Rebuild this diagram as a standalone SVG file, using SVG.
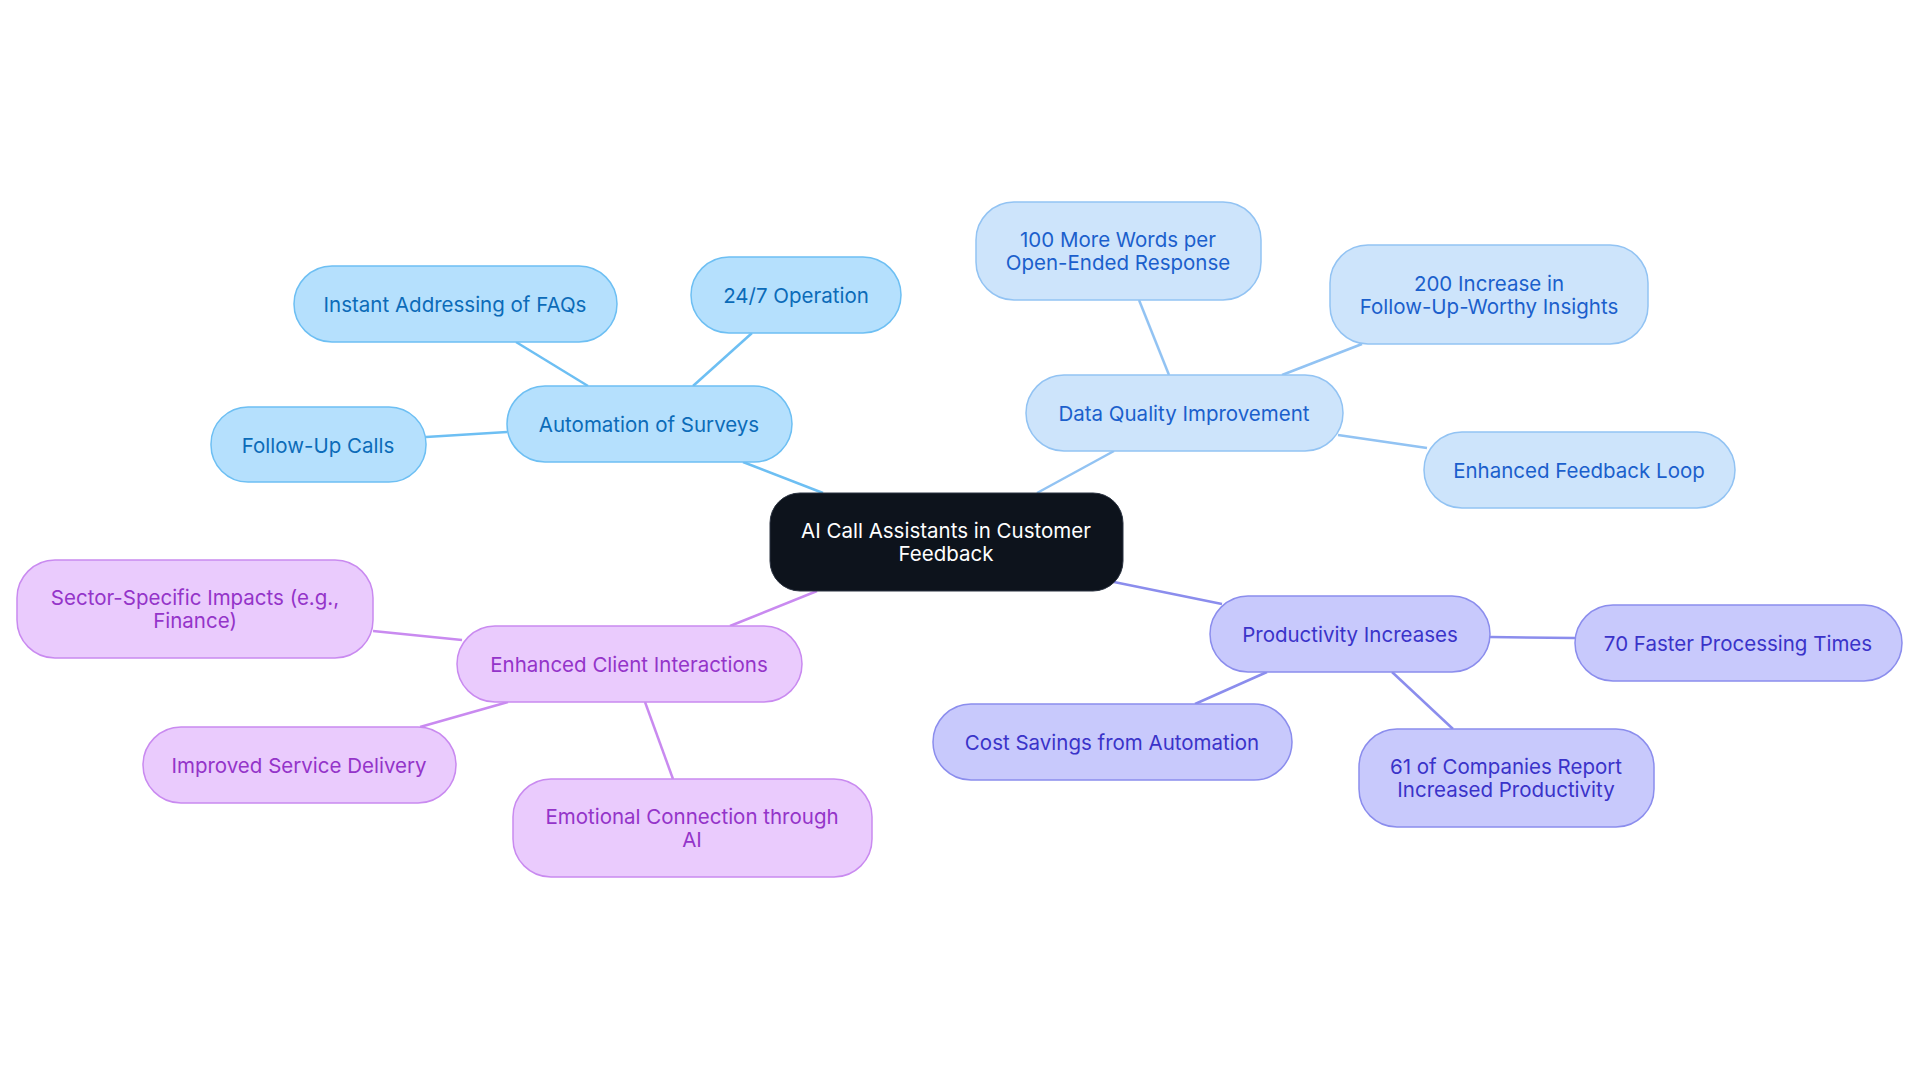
<svg xmlns="http://www.w3.org/2000/svg" width="1920" height="1083" viewBox="0 0 1920 1083">
<style>
text{font-family:Inter,"Noto Sans",sans-serif;font-size:20.5px;text-anchor:middle;dominant-baseline:central}
.a rect{fill:#b5e0fd;stroke:#6dbff3;stroke-width:1.5}.a text{fill:#0b6bb8}
.d rect{fill:#cde4fb;stroke:#92c3f3;stroke-width:1.5}.d text{fill:#1b5fcc}
.p rect{fill:#c8c9fc;stroke:#8b8ded;stroke-width:1.5}.p text{fill:#3a33c9}
.c rect{fill:#eacbfd;stroke:#c98af0;stroke-width:1.5}.c text{fill:#9434c9}
#edges line{stroke-width:2.5}
</style>
<rect width="1920" height="1083" fill="#fff"/>
<g id="edges">
<g stroke="#6dbff3"><line x1="823" y1="493" x2="743" y2="462"/><line x1="588" y1="386" x2="516" y2="342"/><line x1="693" y1="386" x2="752" y2="333"/><line x1="507" y1="432" x2="426" y2="437"/></g>
<g stroke="#92c3f3"><line x1="1037" y1="493" x2="1114" y2="451"/><line x1="1169" y1="375" x2="1139" y2="300"/><line x1="1282" y1="375" x2="1362" y2="344"/><line x1="1338" y1="435" x2="1427" y2="448"/></g>
<g stroke="#8b8ded"><line x1="1114" y1="582" x2="1222" y2="604"/><line x1="1490" y1="637" x2="1575" y2="638"/><line x1="1267" y1="672" x2="1195" y2="704"/><line x1="1392" y1="672" x2="1453" y2="729"/></g>
<g stroke="#c98af0"><line x1="817" y1="591" x2="730" y2="626"/><line x1="462" y1="640" x2="373" y2="631"/><line x1="508" y1="702" x2="420" y2="727"/><line x1="645" y1="702" x2="673" y2="779"/></g>
</g>
<g id="center"><rect x="770" y="493" width="353" height="98" rx="30" fill="#0d131c" stroke="#2a3240"/><text x="946" y="530" fill="#fff">AI Call Assistants in Customer</text><text x="946" y="553" fill="#fff">Feedback</text></g>
<g id="auto" class="a"><rect x="507" y="386" width="285" height="76" rx="38"/><text x="649" y="424">Automation of Surveys</text></g>
<g id="faq" class="a"><rect x="294" y="266" width="323" height="76" rx="38"/><text x="455" y="304">Instant Addressing of FAQs</text></g>
<g id="op" class="a"><rect x="691" y="257" width="210" height="76" rx="38"/><text x="796" y="295">24/7 Operation</text></g>
<g id="fu" class="a"><rect x="211" y="407" width="215" height="75" rx="37"/><text x="318" y="445">Follow-Up Calls</text></g>
<g id="dq" class="d"><rect x="1026" y="375" width="317" height="76" rx="38"/><text x="1184" y="413">Data Quality Improvement</text></g>
<g id="w100" class="d"><rect x="976" y="202" width="285" height="98" rx="38"/><text x="1118" y="239">100 More Words per</text><text x="1118" y="262">Open-Ended Response</text></g>
<g id="i200" class="d"><rect x="1330" y="245" width="318" height="99" rx="38"/><text x="1489" y="283">200 Increase in</text><text x="1489" y="306">Follow-Up-Worthy Insights</text></g>
<g id="loop" class="d"><rect x="1424" y="432" width="311" height="76" rx="38"/><text x="1579" y="470">Enhanced Feedback Loop</text></g>
<g id="prod" class="p"><rect x="1210" y="596" width="280" height="76" rx="38"/><text x="1350" y="634">Productivity Increases</text></g>
<g id="f70" class="p"><rect x="1575" y="605" width="327" height="76" rx="38"/><text x="1738" y="643">70 Faster Processing Times</text></g>
<g id="cost" class="p"><rect x="933" y="704" width="359" height="76" rx="38"/><text x="1112" y="742">Cost Savings from Automation</text></g>
<g id="c61" class="p"><rect x="1359" y="729" width="295" height="98" rx="38"/><text x="1506" y="766">61 of Companies Report</text><text x="1506" y="789">Increased Productivity</text></g>
<g id="cli" class="c"><rect x="457" y="626" width="345" height="76" rx="38"/><text x="629" y="664">Enhanced Client Interactions</text></g>
<g id="sec" class="c"><rect x="17" y="560" width="356" height="98" rx="38"/><text x="195" y="597">Sector-Specific Impacts (e.g.,</text><text x="195" y="620">Finance)</text></g>
<g id="svc" class="c"><rect x="143" y="727" width="313" height="76" rx="38"/><text x="299" y="765">Improved Service Delivery</text></g>
<g id="emo" class="c"><rect x="513" y="779" width="359" height="98" rx="38"/><text x="692" y="816">Emotional Connection through</text><text x="692" y="839">AI</text></g>
</svg>
